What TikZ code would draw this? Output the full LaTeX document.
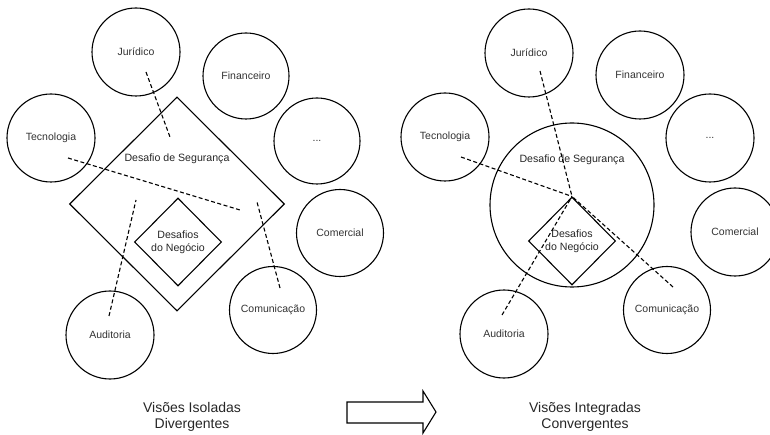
\documentclass[tikz,border=0pt]{standalone}
\usepackage{fontspec}
\setmainfont{Liberation Sans}
\usetikzlibrary{shapes.geometric}
\begin{document}
\begin{tikzpicture}[x=1pt,y=-1pt,
  area/.style={draw,circle,line width=1.1pt,inner sep=0pt,minimum size=88pt,
    font=\fontsize{10.5}{12.5}\selectfont,text=black!80},
  rhomb/.style={draw,diamond,line width=1.1pt,inner sep=0pt,aspect=1},
  lbl/.style={font=\fontsize{10.6}{12.6}\selectfont,text=black!85,align=center,inner sep=0pt},
  caption/.style={font=\fontsize{14}{16.5}\selectfont,text=black!85,align=center,inner sep=0pt},
  link/.style={line width=1.1pt,dash pattern=on 4pt off 2.5pt}
]
\useasboundingbox (0,0) rectangle (770,435);

% ---------- isolated views ----------
\node[area] (jurA) at (136,52) {Jurídico};
\node[area,minimum size=86pt] (finA) at (246,76) {Financeiro};
\node[area] (tecA) at (51,138) {Tecnologia};
\node[area,minimum size=86pt] (etcA) at (317,141) {...};
\node[area,minimum size=87pt] (comA) at (340,233) {Comercial};
\node[area,minimum size=87pt] (cmuA) at (273,310) {Comunicação};
\node[area] (audA) at (110,335) {Auditoria};

\node[rhomb,minimum width=215pt,minimum height=214pt] (segA) at (177,204) {};
\node[rhomb,minimum width=87pt,minimum height=88pt] (negA) at (178,242) {};
\node[lbl] (segAt) at (177,159) {Desafio de Segurança};
\node[lbl] (negAt) at (178,242) {Desafios\\do Negócio};

\coordinate (jurAend) at (170,137);
\coordinate (tecAend) at (240,210);
\coordinate (audAend) at (136,200);
\coordinate (cmuAend) at (257,202);
\draw[link] ([shift={(10,20)}]jurA.center) -- (jurAend);
\draw[link] ([shift={(17,20)}]tecA.center) -- (tecAend);
\draw[link] ([shift={(-1,-19)}]audA.center) -- (audAend);
\draw[link] ([shift={(7,-22)}]cmuA.center) -- (cmuAend);

\node[caption] (capA) at (192,417) {Visões Isoladas\\Divergentes};

% ---------- transition arrow ----------
\draw[line width=1.1pt,line join=miter]
  (347,402) -- (423,402) -- (423,391) -- (436,412) -- (423,433)
  -- (423,423) -- (347,423) -- cycle;

% ---------- integrated views ----------
\node[area] (jurB) at (529,53) {Jurídico};
\node[area] (finB) at (640,75) {Financeiro};
\node[area] (tecB) at (445,137) {Tecnologia};
\node[area] (etcB) at (710,138) {...};
\node[area] (comB) at (735,232) {Comercial};
\node[area,minimum size=87pt] (cmuB) at (667,310) {Comunicação};
\node[area] (audB) at (504,334) {Auditoria};

\node[draw,circle,line width=1.1pt,minimum size=164pt,inner sep=0pt] (segB) at (572,205) {};
\node[rhomb,minimum width=87pt,minimum height=88pt] (negB) at (572,241) {};
\node[lbl] (segBt) at (572,160) {Desafio de Segurança};
\node[lbl] (negBt) at (572,241) {Desafios\\do Negócio};

\draw[link] ([shift={(11,18)}]jurB.center) -- (negB.north);
\draw[link] ([shift={(16,20)}]tecB.center) -- (negB.north);
\draw[link] ([shift={(-2,-19)}]audB.center) -- (negB.north);
\draw[link] ([shift={(6,-23)}]cmuB.center) -- (negB.north);

\node[caption] (capB) at (585,417) {Visões Integradas\\Convergentes};
\end{tikzpicture}
\end{document}
